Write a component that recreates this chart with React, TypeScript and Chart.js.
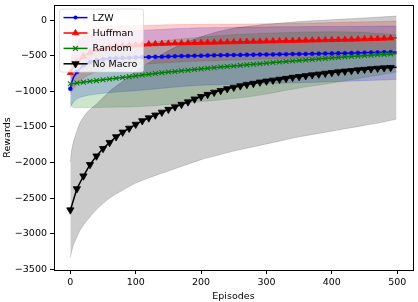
import React, { useEffect, useRef } from "react";
import { Chart, registerables } from "chart.js";

Chart.register(...registerables);

// ---------- data ----------
const SERIES_LABELS = ["LZW", "Huffman", "Random", "No Macro"];

const EPISODES = [0, 2, 5, 10, 20, 30, 40, 50, 60, 70, 80, 90, 100, 110, 120, 130, 140, 150, 160, 170, 180, 190, 200, 210, 220, 230, 240, 250, 260, 270, 280, 290, 300, 310, 320, 330, 340, 350, 360, 370, 380, 390, 400, 410, 420, 430, 440, 450, 460, 470, 480, 490, 499];

const LZW_MEAN = [-965, -880, -800, -730, -635, -590, -565, -550, -541, -536, -532, -529, -526, -523, -520, -517, -514, -511, -508, -506, -504, -502, -500, -498, -496, -494, -492, -490, -489, -488, -486, -485, -484, -482, -481, -480, -478, -477, -475, -474, -472, -471, -469, -467, -465, -463, -461, -459, -457, -455, -453, -451, -449];
const HUFFMAN_MEAN = [-740, -700, -660, -600, -510, -455, -420, -398, -383, -371, -362, -354, -348, -343, -339, -335, -332, -329, -326, -324, -322, -320, -318, -316, -314, -312, -310, -308, -306, -304, -302, -300, -298, -296, -294, -292, -290, -288, -286, -284, -282, -280, -278, -276, -274, -272, -270, -267, -264, -261, -258, -254, -250];
const RANDOM_MEAN = [-895, -893, -890, -885, -872, -860, -850, -838, -828, -818, -806, -795, -784, -772, -761, -750, -740, -730, -722, -713, -704, -695, -686, -677, -668, -660, -652, -645, -637, -629, -621, -613, -605, -597, -589, -581, -574, -567, -560, -553, -546, -539, -532, -525, -518, -512, -506, -500, -494, -488, -482, -476, -470];
const NOMACRO_MEAN = [-2667, -2610, -2520, -2370, -2190, -2030, -1910, -1805, -1720, -1640, -1575, -1520, -1465, -1415, -1375, -1335, -1295, -1255, -1220, -1185, -1150, -1110, -1075, -1045, -1015, -990, -965, -945, -925, -905, -890, -872, -858, -845, -832, -820, -805, -795, -782, -770, -760, -748, -738, -728, -718, -710, -700, -693, -685, -678, -672, -667, -662];

const BAND_EPISODES = [0, 2, 5, 10, 15, 25, 40, 60, 80, 100, 125, 150, 175, 200, 225, 250, 275, 300, 325, 350, 375, 400, 425, 450, 475, 499];

const LZW_UPPER = [-700, -520, -400, -310, -265, -225, -195, -172, -160, -150, -138, -125, -115, -108, -104, -101, -99, -97, -95, -93, -91, -90, -89, -88, -86, -85];
const LZW_LOWER = [-1230, -1190, -1150, -1110, -1085, -1062, -1040, -1020, -1005, -992, -972, -950, -930, -915, -907, -901, -896, -891, -886, -880, -873, -866, -859, -851, -843, -835];
const HUFFMAN_UPPER = [-450, -390, -310, -230, -180, -135, -108, -92, -84, -78, -72, -66, -63, -60, -58, -56, -54, -51, -48, -44, -40, -35, -30, -25, -19, -14];
const HUFFMAN_LOWER = [-1030, -1005, -965, -905, -855, -785, -725, -682, -652, -632, -612, -596, -585, -576, -568, -561, -554, -547, -540, -533, -526, -519, -512, -505, -497, -490];
const RANDOM_UPPER = [-560, -555, -550, -540, -530, -505, -470, -430, -390, -353, -315, -285, -260, -240, -222, -205, -195, -185, -178, -172, -168, -165, -168, -175, -190, -210];
const RANDOM_LOWER = [-1150, -1210, -1228, -1232, -1232, -1230, -1228, -1225, -1222, -1217, -1205, -1185, -1165, -1145, -1125, -1102, -1075, -1040, -995, -955, -920, -885, -845, -805, -768, -730];
const NOMACRO_UPPER = [-1990, -1830, -1700, -1560, -1440, -1300, -1180, -1000, -860, -720, -570, -430, -320, -235, -165, -115, -85, -60, -40, -22, -8, 5, 18, 30, 43, 56];
const NOMACRO_LOWER = [-3330, -3250, -3150, -3050, -2950, -2820, -2660, -2500, -2390, -2290, -2200, -2120, -2040, -1960, -1900, -1840, -1790, -1740, -1690, -1640, -1600, -1560, -1520, -1480, -1440, -1390];

const X_TICKS = [0, 100, 200, 300, 400, 500];
const Y_TICKS = [-3500, -3000, -2500, -2000, -1500, -1000, -500, 0];

// ---------- styles ----------
const FONT = "'DejaVu Sans', sans-serif";
const FS = 9.5;
const COLORS = ["#0000ff", "#ff0000", "#008000", "#000000"];
const BAND_COLORS = ["rgba(0,0,255,0.2)", "rgba(255,0,0,0.2)", "rgba(0,128,0,0.2)", "rgba(0,0,0,0.2)"];
const MARKERS = [
  { style: "circle", r: 2, rot: 0, bw: 0.5 },
  { style: "triangle", r: 3.6, rot: 0, bw: 0.8 },
  { style: "crossRot", r: 3.4, rot: 0, bw: 1.1 },
  { style: "triangle", r: 4.2, rot: 180, bw: 0.8 },
];

const MEANS = [LZW_MEAN, HUFFMAN_MEAN, RANDOM_MEAN, NOMACRO_MEAN];
const UPPERS = [LZW_UPPER, HUFFMAN_UPPER, RANDOM_UPPER, NOMACRO_UPPER];
const LOWERS = [LZW_LOWER, HUFFMAN_LOWER, RANDOM_LOWER, NOMACRO_LOWER];

function pts(xs: number[], ys: number[]) {
  return xs.map((x, i) => ({ x, y: ys[i] }));
}

function minusFmt(v: number) {
  return v < 0 ? "\u2212" + Math.abs(v) : String(v);
}

function drawMarker(ctx: CanvasRenderingContext2D, i: number, x: number, y: number) {
  const m = MARKERS[i];
  const c = COLORS[i];
  ctx.save();
  ctx.fillStyle = c;
  ctx.strokeStyle = c;
  ctx.lineWidth = m.bw;
  ctx.beginPath();
  if (m.style === "circle") {
    ctx.arc(x, y, m.r, 0, Math.PI * 2);
    ctx.fill();
  } else if (m.style === "triangle") {
    let rad = (m.rot * Math.PI) / 180;
    ctx.moveTo(x + Math.sin(rad) * m.r, y - Math.cos(rad) * m.r);
    rad += (2 * Math.PI) / 3;
    ctx.lineTo(x + Math.sin(rad) * m.r, y - Math.cos(rad) * m.r);
    rad += (2 * Math.PI) / 3;
    ctx.lineTo(x + Math.sin(rad) * m.r, y - Math.cos(rad) * m.r);
    ctx.closePath();
    ctx.fill();
    ctx.stroke();
  } else {
    const d = Math.cos(Math.PI / 4) * m.r;
    ctx.moveTo(x - d, y - d);
    ctx.lineTo(x + d, y + d);
    ctx.moveTo(x + d, y - d);
    ctx.lineTo(x - d, y + d);
    ctx.stroke();
  }
  ctx.restore();
}

const framePlugin = {
  id: "frameAndLegend",
  afterDatasetsDraw(chart: any) {
    const ctx: CanvasRenderingContext2D = chart.ctx;
    const { left, right, top, bottom } = chart.chartArea;
    ctx.save();
    // spines
    ctx.strokeStyle = "#000";
    ctx.lineWidth = 1;
    ctx.strokeRect(Math.round(left) + 0.5, Math.round(top) + 0.5, Math.round(right - left), Math.round(bottom - top));

    // legend box
    const bx = left + 5.5;
    const by = top + 4;
    const bw = 84;
    const bh = 63;
    const rr = 2.5;
    ctx.beginPath();
    ctx.moveTo(bx + rr, by);
    ctx.lineTo(bx + bw - rr, by);
    ctx.quadraticCurveTo(bx + bw, by, bx + bw, by + rr);
    ctx.lineTo(bx + bw, by + bh - rr);
    ctx.quadraticCurveTo(bx + bw, by + bh, bx + bw - rr, by + bh);
    ctx.lineTo(bx + rr, by + bh);
    ctx.quadraticCurveTo(bx, by + bh, bx, by + bh - rr);
    ctx.lineTo(bx, by + rr);
    ctx.quadraticCurveTo(bx, by, bx + rr, by);
    ctx.closePath();
    ctx.fillStyle = "rgba(255,255,255,0.8)";
    ctx.fill();
    ctx.strokeStyle = "rgba(204,204,204,0.8)";
    ctx.lineWidth = 0.8;
    ctx.stroke();

    ctx.font = `${FS}px ${FONT}`;
    ctx.textBaseline = "middle";
    ctx.textAlign = "left";
    SERIES_LABELS.forEach((label, i) => {
      const y = by + 8.5 + i * 15.4;
      const x0 = bx + 4;
      const x1 = bx + 28;
      ctx.strokeStyle = COLORS[i];
      ctx.lineWidth = 1.5;
      ctx.beginPath();
      ctx.moveTo(x0, y);
      ctx.lineTo(x1, y);
      ctx.stroke();
      drawMarker(ctx, i, (x0 + x1) / 2, y);
      ctx.fillStyle = "#000";
      ctx.fillText(label, bx + 33, y + 0.5);
    });
    ctx.restore();
  },
};

function buildDatasets() {
  const ds: any[] = [];
  // bands first (drawn underneath)
  for (let i = 0; i < 4; i++) {
    ds.push({
      label: SERIES_LABELS[i] + " upper",
      data: pts(BAND_EPISODES, UPPERS[i]),
      borderColor: BAND_COLORS[i],
      backgroundColor: BAND_COLORS[i],
      borderWidth: 0.8,
      pointRadius: 0,
      fill: "+1",
      tension: 0.2,
      order: 20 - i,
    });
    ds.push({
      label: SERIES_LABELS[i] + " lower",
      data: pts(BAND_EPISODES, LOWERS[i]),
      borderColor: BAND_COLORS[i],
      backgroundColor: BAND_COLORS[i],
      borderWidth: 0.8,
      pointRadius: 0,
      fill: false,
      tension: 0.2,
      order: 20 - i,
    });
  }
  for (let i = 0; i < 4; i++) {
    const m = MARKERS[i];
    ds.push({
      label: SERIES_LABELS[i],
      data: pts(EPISODES, MEANS[i]),
      borderColor: COLORS[i],
      backgroundColor: COLORS[i],
      borderWidth: 1.5,
      fill: false,
      tension: 0,
      pointStyle: m.style,
      pointRadius: EPISODES.map((e) => (e % 10 === 0 ? m.r : 0)),
      pointRotation: m.rot,
      pointBackgroundColor: COLORS[i],
      pointBorderColor: COLORS[i],
      pointBorderWidth: m.bw,
      order: 4 - i,
    });
  }
  return ds;
}

export default function App() {
  const ref = useRef<HTMLCanvasElement>(null);
  useEffect(() => {
    const tickFont = { family: FONT, size: FS };
    const chart = new Chart(ref.current as HTMLCanvasElement, {
      type: "line",
      data: { datasets: buildDatasets() },
      plugins: [framePlugin],
      options: {
        animation: false,
        responsive: false,
        events: [],
        layout: { padding: { top: 2, right: 3, left: 0, bottom: 0 } },
        plugins: {
          legend: { display: false },
          tooltip: { enabled: false },
        },
        scales: {
          x: {
            type: "linear",
            min: -25,
            max: 524,
            afterBuildTicks: (s: any) => {
              s.ticks = X_TICKS.map((v) => ({ value: v }));
            },
            afterFit: (s: any) => {
              s.height = 32;
              s.paddingLeft = 0;
              s.paddingRight = 0;
            },
            grid: { display: true, drawOnChartArea: false, drawTicks: true, tickLength: 4, tickColor: "#000", tickWidth: 1 },
            border: { display: false },
            ticks: { color: "#000", font: tickFont, padding: 3, maxRotation: 0, autoSkip: false, callback: (v: any) => minusFmt(Number(v)) },
            title: { display: true, text: "Episodes", color: "#000", font: tickFont, padding: { top: 0, bottom: 0 } },
          },
          y: {
            type: "linear",
            min: -3510,
            max: 210,
            afterBuildTicks: (s: any) => {
              s.ticks = Y_TICKS.map((v) => ({ value: v }));
            },
            afterFit: (s: any) => {
              s.width = 54;
              s.paddingTop = 0;
              s.paddingBottom = 0;
            },
            grid: { display: true, drawOnChartArea: false, drawTicks: true, tickLength: 4, tickColor: "#000", tickWidth: 1 },
            border: { display: false },
            ticks: { color: "#000", font: tickFont, padding: 3, autoSkip: false, callback: (v: any) => minusFmt(Number(v)) },
            title: { display: true, text: "Rewards", color: "#000", font: tickFont, padding: { top: 2, bottom: 0 } },
          },
        },
      } as any,
    });
    return () => chart.destroy();
  }, []);
  return (
    <div style={{ position: "fixed", left: 0, top: 0, width: 418, height: 302, background: "#fff" }}>
      <canvas ref={ref} width={418} height={302} style={{ display: "block", width: 418, height: 302 }} />
    </div>
  );
}
